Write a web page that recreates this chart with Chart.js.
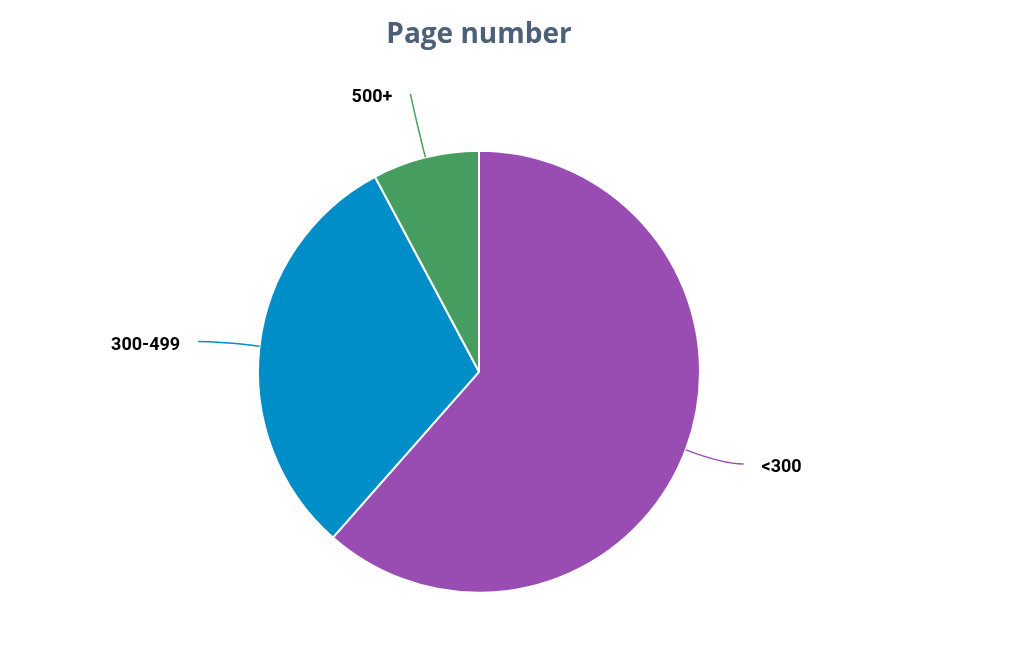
<!DOCTYPE html>
<html>
<head>
<meta charset="utf-8">
<script src="https://cdn.jsdelivr.net/npm/chart.js@4/dist/chart.umd.min.js"></script>
<style>
  html, body { margin: 0; padding: 0; background: #fff; }
  #wrap { width: 1024px; height: 646px; }
</style>
</head>
<body>
<div id="wrap"><canvas id="pieChart"></canvas></div>
<script>
// Data
const categories = ["<300", "300-499", "500+"];
const shares = [61.5, 30.7, 7.8];
const sliceColors = ["#994db3", "#008ec9", "#459e60"];

// Leader lines with labels outside the slices
const leaderLabels = {
  id: "leaderLabels",
  afterDatasetsDraw(chart) {
    const ctx = chart.ctx;
    const meta = chart.getDatasetMeta(0);
    meta.data.forEach((arc, i) => {
      const mid = (arc.startAngle + arc.endAngle) / 2;
      const r = arc.outerRadius;
      const x0 = arc.x + Math.cos(mid) * r;
      const y0 = arc.y + Math.sin(mid) * r;
      const xc = arc.x + Math.cos(mid) * r * 1.18;
      const yc = arc.y + Math.sin(mid) * r * 1.18;
      const right = Math.cos(mid) >= 0;
      const x1 = xc + (right ? 22 : -22) * Math.abs(Math.cos(mid)) + (right ? 0 : 0);
      const y1 = yc + (Math.abs(Math.cos(mid)) < 0.5 ? -25 : 0);
      ctx.save();
      ctx.strokeStyle = sliceColors[i];
      ctx.lineWidth = 1.5;
      ctx.beginPath();
      ctx.moveTo(x0, y0);
      ctx.quadraticCurveTo(xc, yc, x1, y1);
      ctx.stroke();
      ctx.fillStyle = "#000";
      ctx.font = "bold 18px Roboto";
      ctx.textBaseline = "middle";
      ctx.textAlign = right ? "left" : "right";
      ctx.fillText(categories[i], x1 + (right ? 18 : -18), y1 + 4);
      ctx.restore();
    });
  }
};

new Chart(document.getElementById("pieChart"), {
  type: "pie",
  data: {
    labels: categories,
    datasets: [{
      data: shares,
      backgroundColor: sliceColors,
      borderColor: "#ffffff",
      borderWidth: 2
    }]
  },
  options: {
    responsive: true,
    maintainAspectRatio: false,
    animation: false,
    layout: { padding: { left: 257, right: 323, top: 0, bottom: 52 } },
    plugins: {
      legend: { display: false },
      tooltip: { enabled: false },
      title: {
        display: true,
        text: "Page number",
        color: "#4d6078",
        font: { family: "Open Sans", size: 28, weight: "bold" },
        padding: { top: 18, bottom: 98 }
      }
    }
  },
  plugins: [leaderLabels]
});
</script>
</body>
</html>
